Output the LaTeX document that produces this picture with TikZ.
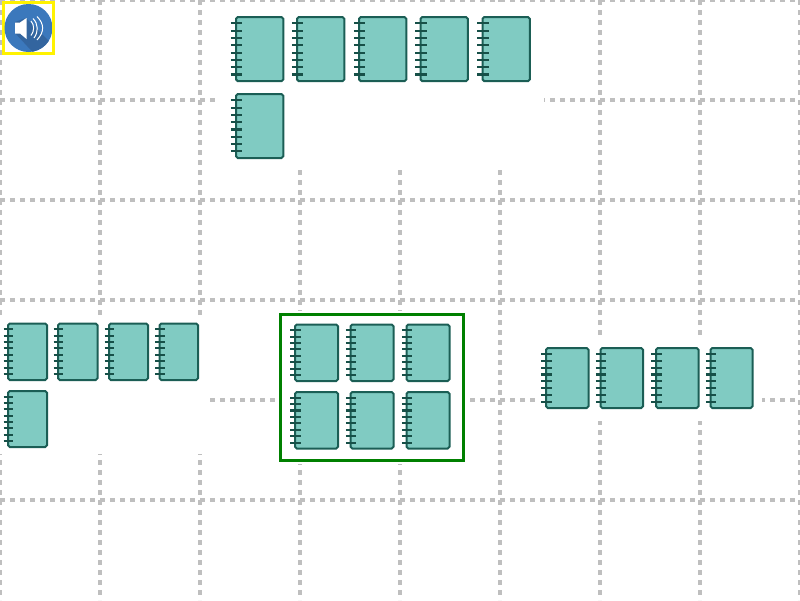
\documentclass[tikz,border=0pt]{standalone}
\usepackage{tikz}
\definecolor{gridc}{HTML}{BFBFBF}
\definecolor{nbfill}{HTML}{80CBC2}
\definecolor{nbline}{HTML}{1B5E55}
\definecolor{spk}{HTML}{3B78BC}
\definecolor{spkd}{HTML}{33659F}
\definecolor{boxg}{HTML}{008000}
\tikzset{
  gridline/.style={draw=gridc,line width=3.3pt,dash pattern=on 5pt off 5pt},
  maskbox/.style={fill=white,draw=none},
  nbbody/.style={fill=nbfill,draw=nbline,line width=2pt,rounded corners=1.8pt},
  nbspiral/.style={draw=nbline!85!black,line width=2.1pt},
  arcw/.style={draw=white,line width=1pt}
}
% notebook: left, top, right, bottom
\newcommand{\nbook}[4]{%
  \draw[nbbody] (#1,#2) rectangle (#3,#4);
  \pgfmathsetmacro{\wd}{#3-#1}\pgfmathsetmacro{\ht}{#4-#2}
  \foreach \i in {0,...,7}{
    \pgfmathsetmacro{\yy}{#2+\ht*(0.10+0.7957*\i/7)}
    \pgfmathsetmacro{\xa}{#1-0.11*\wd}\pgfmathsetmacro{\xb}{#1+0.13*\wd}
    \draw[nbspiral] (\xa,\yy) -- (\xb,\yy);
  }
}
\begin{document}
\begin{tikzpicture}[x=1pt,y=-1pt]
\useasboundingbox (0,0) rectangle (800,600);
\fill[white] (0,0) rectangle (800,600);
% grid
\foreach \x in {0,100,...,800} \draw[gridline] (\x,0) -- (\x,600);
\foreach \y in {0,100,...,500} \draw[gridline] (0,\y) -- (800,\y);
% white panels
\fill[maskbox] (215,2) rectangle (544,170);
\fill[maskbox] (-2,315) rectangle (210,454);
\fill[maskbox] (275,311) rectangle (470,464);
\fill[maskbox] (535,337) rectangle (762,421);
% speaker button
\draw[yellow,line width=3pt,fill=white] (3.5,2.5) rectangle (53.5,53);
\begin{scope}
  \clip (28.5,28) circle (24);
  \fill[spk] (4,3) rectangle (53,53);
  \fill[spkd] (26,18) -- (60,52) -- (40,60) -- (15,33) -- (15,22) -- cycle;
\end{scope}
\fill[white] (15,22.5) -- (20,22.5) -- (26.5,18) -- (26.5,39) -- (20,33.5) -- (15,33.5) -- cycle;
\draw[arcw] (31,21) .. controls (34.5,25) and (34.5,31) .. (31,35.5);
\draw[arcw] (33,18.5) .. controls (38.5,24) and (38.5,32) .. (34,38);
\draw[arcw] (37,16.5) .. controls (44.5,24) and (44.5,32) .. (37,40);
% top group
\nbook{236}{17}{283.3}{81.2}
\nbook{297}{17}{344.3}{81.2}
\nbook{359}{17}{406.3}{81.2}
\nbook{420.5}{17}{467.8}{81.2}
\nbook{482.5}{17}{529.8}{81.2}
\nbook{236}{94}{283.3}{158}
% left group
\nbook{8}{323.5}{47}{380}
\nbook{58}{323.5}{97.5}{380}
\nbook{109}{323.5}{148}{380}
\nbook{159.5}{323.5}{198}{380}
\nbook{8}{391}{47}{447}
% centre group
\draw[draw=boxg,line width=3pt] (280.5,314) rectangle (463,460);
\nbook{295}{324.5}{338}{381}
\nbook{350.5}{324.5}{393.5}{381}
\nbook{406.5}{324.5}{449.5}{381}
\nbook{295}{392}{338}{448.5}
\nbook{350.5}{392}{393.5}{448.5}
\nbook{406.5}{392}{449.5}{448.5}
% right group
\nbook{546}{348}{588.5}{408}
\nbook{600.5}{348}{643}{408}
\nbook{656}{348}{698.5}{408}
\nbook{710.5}{348}{752.5}{408}
\end{tikzpicture}
\end{document}
